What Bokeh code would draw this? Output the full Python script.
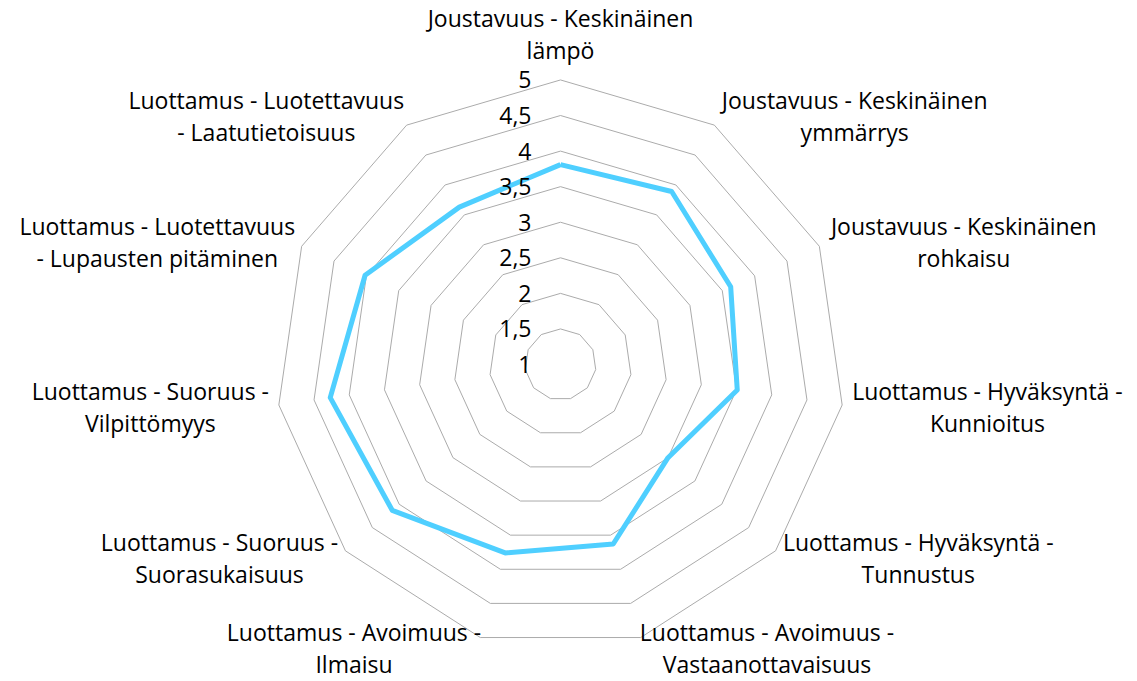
import math
from bokeh.plotting import figure
from bokeh.models import Range1d
from bokeh.core.properties import value
from bokeh.embed import file_html
from bokeh.resources import INLINE

# ---- data ----
categories = [
    "Joustavuus - Keskinäinen\nlämpö",
    "Joustavuus - Keskinäinen\nymmärrys",
    "Joustavuus - Keskinäinen\nrohkaisu",
    "Luottamus - Hyväksyntä -\nKunnioitus",
    "Luottamus - Hyväksyntä -\nTunnustus",
    "Luottamus - Avoimuus -\nVastaanottavaisuus",
    "Luottamus - Avoimuus -\nIlmaisu",
    "Luottamus - Suoruus -\nSuorasukaisuus",
    "Luottamus - Suoruus -\nVilpittömyys",
    "Luottamus - Luotettavuus\n- Lupausten pitäminen",
    "Luottamus - Luotettavuus\n- Laatutietoisuus",
]
values = [3.81, 3.89, 3.63, 3.51, 3.00, 3.63, 3.76, 4.13, 4.27, 4.02, 3.63]
ring_values = [1.5, 2, 2.5, 3, 3.5, 4, 4.5, 5]
tick_values = [1, 1.5, 2, 2.5, 3, 3.5, 4, 4.5, 5]
tick_labels = ["1", "1,5", "2", "2,5", "3", "3,5", "4", "4,5", "5"]
v_min, v_max = 1, 5

# ---- layout (pixel units) ----
W, H = 1137, 681
cx_pix, cy_pix = 560, 364          # centre in figure pixels (from top-left)
S = 71.14                          # pixels per value unit
FONT = "Open Sans"
FS = "23px"
CHAR_W = 11.2

n = len(categories)
ang = [2 * math.pi * i / n for i in range(n)]

def r_of(v):
    return (v - v_min) * S

p = figure(width=W, height=H, output_backend="svg", toolbar_location=None,
           x_range=Range1d(-cx_pix, W - cx_pix), y_range=Range1d(-(H - cy_pix), cy_pix),
           min_border=0)
p.axis.visible = False
p.grid.visible = False
p.outline_line_color = None
p.background_fill_color = "white"

# rings
xs, ys = [], []
for rv in ring_values:
    r = r_of(rv)
    xs.append([r * math.sin(a) for a in ang] + [0.0])
    ys.append([r * math.cos(a) for a in ang] + [r])
p.multi_line(xs=xs, ys=ys, line_color="#ABABAB", line_width=1)

# data series
dx = [r_of(v) * math.sin(a) for v, a in zip(values, ang)]
dy = [r_of(v) * math.cos(a) for v, a in zip(values, ang)]
p.line(dx + [dx[0]], dy + [dy[0]], line_color="#4FCFFF", line_width=5, line_join="round")

# tick labels
p.text(x=[-29] * len(tick_values), y=[r_of(t) for t in tick_values], text=tick_labels,
       text_font=value(FONT), text_font_size=FS, text_color="#000000",
       text_align="right", text_baseline="middle")

# category labels
R = r_of(v_max)
lx, ly, lb = [], [], []
for i, (c, a) in enumerate(zip(categories, ang)):
    s, co = math.sin(a), math.cos(a)
    wmax = max(len(t) for t in c.split("\n")) * CHAR_W
    if abs(s) < 0.05:
        lx.append(0.0)
        ly.append((R + 14) * co)
        lb.append("bottom" if co > 0 else "top")
    else:
        edge = (R + 11) * s
        lx.append(edge + (wmax / 2 if s > 0 else -wmax / 2))
        ly.append((R + 11) * co)
        lb.append("middle")
for base in ("bottom", "middle", "top"):
    idx = [k for k in range(n) if lb[k] == base]
    if not idx:
        continue
    p.text(x=[lx[k] for k in idx], y=[ly[k] for k in idx], text=[categories[k] for k in idx],
           text_font=value(FONT), text_font_size=FS, text_color="#000000",
           text_align="center", text_baseline=base, text_line_height=1.0)

open("out.html", "w").write(file_html(p, INLINE))
